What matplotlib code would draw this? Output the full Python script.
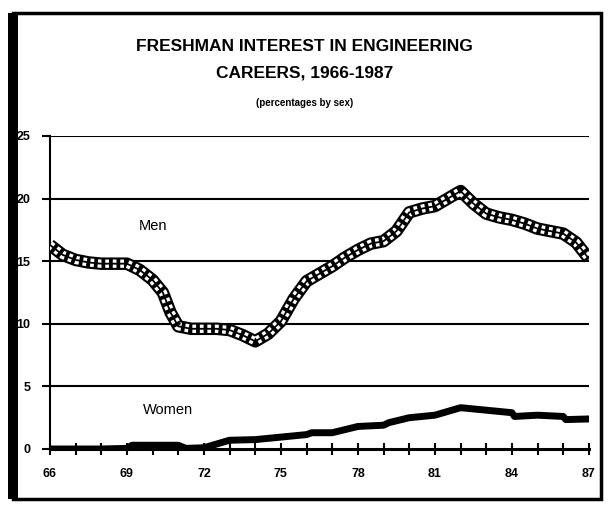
import matplotlib
matplotlib.use("Agg")
import matplotlib.pyplot as plt
from matplotlib.patches import Rectangle

plt.rcParams.update({
    "font.family": "Liberation Sans",
    "font.size": 9,
})

# Men: % of freshmen interested in engineering careers
men_years = [66, 66.5, 67, 67.5, 68, 68.5, 69, 69.5, 70, 70.4, 70.7, 71, 71.5, 72,
             72.5, 73, 73.5, 74, 74.5, 75, 75.5, 76, 76.5, 77, 77.5, 78, 78.5, 79,
             79.5, 80, 80.5, 81, 81.5, 82, 82.5, 83, 83.5, 84, 84.5, 85, 85.5, 86,
             86.5, 87]
men_pct = [16.3, 15.5, 15.1, 14.9, 14.8, 14.8, 14.8, 14.3, 13.5, 12.5, 10.9, 9.8, 9.6,
           9.6, 9.6, 9.5, 9.1, 8.6, 9.2, 10.2, 12.0, 13.4, 14.0, 14.6, 15.3, 15.9,
           16.4, 16.6, 17.4, 18.9, 19.2, 19.4, 20.0, 20.6, 19.6, 18.8, 18.5, 18.3,
           18.0, 17.6, 17.4, 17.2, 16.5, 15.2]

# Women
women_years = [66, 67, 68, 69, 69.2, 70, 71, 71.3, 72, 72.5, 73, 74, 75, 76, 76.2,
               77, 78, 79, 79.2, 80, 81, 82, 83, 84, 84.1, 85, 86, 86.1, 87]
women_pct = [0.0, 0.0, 0.0, 0.05, 0.3, 0.3, 0.3, 0.05, 0.1, 0.4, 0.7, 0.75, 0.95,
             1.15, 1.3, 1.3, 1.8, 1.9, 2.1, 2.5, 2.7, 3.3, 3.1, 2.9, 2.6, 2.7, 2.6,
             2.35, 2.4]

year_ticks = [66, 69, 72, 75, 78, 81, 84, 87]
y_ticks = [0, 5, 10, 15, 20, 25]

fig = plt.figure(figsize=(6.09, 5.07), dpi=100)
ax = fig.add_axes([0.082, 0.1144, 0.885, 0.6174])

# gridlines
for v in y_ticks[1:]:
    ax.axhline(v, color="black", lw=1.5, zorder=1)

# men: checkered band (black edge, two rows of white dots)
ax.plot(men_years, men_pct, color="black", lw=9, solid_capstyle="butt", zorder=3)
ax.plot(men_years, men_pct, color="white", lw=6, dashes=(0.45, 0.45), zorder=4)
ax.plot(men_years, men_pct, color="black", lw=1.3, zorder=5)

# women: solid heavy line
ax.plot(women_years, women_pct, color="black", lw=5, zorder=3)

ax.text(70, 17.8, "Men", fontsize=10.5, ha="center", va="center")
ax.text(70.6, 3.1, "Women", fontsize=10.5, ha="center", va="center")

ax.set_xlim(66, 87)
ax.set_ylim(0, 25)
ax.set_xticks(year_ticks)
ax.set_xticklabels([str(y) for y in year_ticks], fontweight="bold", fontsize=9)
ax.set_xticks(range(66, 88), minor=True)
ax.set_yticks(y_ticks)
ax.set_yticklabels([str(v) for v in y_ticks], fontweight="bold", fontsize=9)

for s in ["top", "right"]:
    ax.spines[s].set_visible(False)
ax.spines["left"].set_linewidth(1.5)
ax.spines["bottom"].set_linewidth(2.2)
ax.tick_params(axis="x", which="both", direction="inout", length=8, width=1.5, pad=10)
ax.tick_params(axis="y", direction="out", length=6, width=1.5, pad=8)

fig.text(0.5, 0.908, "FRESHMAN INTEREST IN ENGINEERING", ha="center", va="center",
         fontsize=12.5, fontweight="bold")
fig.text(0.5, 0.856, "CAREERS, 1966-1987", ha="center", va="center",
         fontsize=12.5, fontweight="bold")
fig.text(0.5, 0.797, "(percentages by sex)", ha="center", va="center",
         fontsize=7, fontweight="bold")

# scanned-page frame
fig.patches.append(Rectangle((0.022, 0.015), 0.965, 0.96, transform=fig.transFigure,
                             fill=False, lw=2.5, edgecolor="black"))
fig.patches.append(Rectangle((0.013, 0.015), 0.016, 0.96, transform=fig.transFigure,
                             color="black", lw=0))

fig.savefig("out.png", dpi=100)
